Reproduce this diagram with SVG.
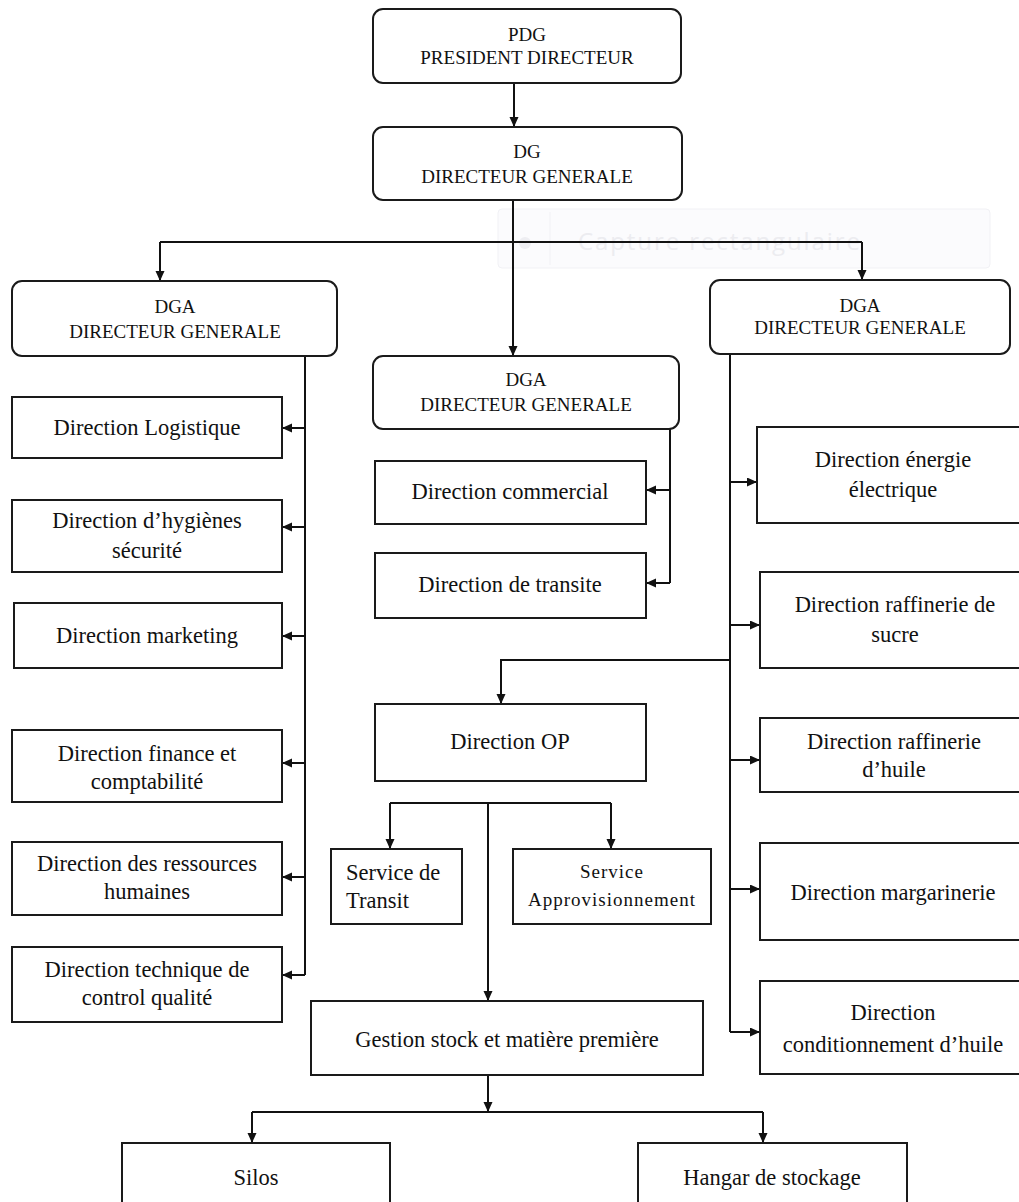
<svg xmlns="http://www.w3.org/2000/svg" width="1019" height="1202" viewBox="0 0 1019 1202">
<style>
.box{fill:#fff;stroke:#1a1a1a;stroke-width:2}
.t{font-family:"Liberation Serif","Times New Roman",serif;font-size:22.5px;fill:#111;text-anchor:middle}
.tl{font-family:"Liberation Serif","Times New Roman",serif;font-size:22.5px;fill:#111;text-anchor:start}
.c{font-family:"Liberation Serif","Times New Roman",serif;font-size:19px;fill:#111;text-anchor:middle}
.s{font-family:"Liberation Serif","Times New Roman",serif;font-size:19px;fill:#111;text-anchor:middle;letter-spacing:1px}
.ln{fill:none;stroke:#111;stroke-width:2}
.ar{fill:none;stroke:#111;stroke-width:2;marker-end:url(#ah)}
</style>
<defs>
<marker id="ah" markerUnits="userSpaceOnUse" markerWidth="10" markerHeight="10" refX="10" refY="4.5" orient="auto">
<path d="M0,0 L10,4.5 L0,9 z" fill="#111"/>
</marker>
</defs>
<rect width="1019" height="1202" fill="#fff"/>
<g id="watermark">
<rect x="498" y="209" width="492" height="59" rx="4" fill="#fbfbfd" stroke="#f1f1f5" stroke-width="1"/>
<circle cx="525" cy="243" r="6" fill="#eeeef2"/>
<line x1="550" y1="212" x2="550" y2="265" stroke="#f1f1f5" stroke-width="1"/>
<text x="578" y="250" font-family="'Open Sans',sans-serif" font-size="24" fill="#ececf0" textLength="282">Capture rectangulaire</text>
</g>
<g id="connectors">
<path class="ar" d="M514 83 V127"/>
<path class="ar" d="M513 200 V356"/>
<path class="ln" d="M160 242 H862"/>
<path class="ar" d="M160 242 V281"/>
<path class="ar" d="M862 242 V280"/>
<path class="ln" d="M305 356 V975"/>
<path class="ar" d="M305 428 H282"/>
<path class="ar" d="M305 527 H282"/>
<path class="ar" d="M305 636 H282"/>
<path class="ar" d="M305 763 H282"/>
<path class="ar" d="M305 877 H282"/>
<path class="ar" d="M305 975 H282"/>
<path class="ln" d="M670 429 V583"/>
<path class="ar" d="M670 490 H646"/>
<path class="ar" d="M670 583 H646"/>
<path class="ln" d="M730 354 V1032"/>
<path class="ar" d="M730 482 H757"/>
<path class="ar" d="M730 625 H760"/>
<path class="ar" d="M730 760 H760"/>
<path class="ar" d="M730 889 H760"/>
<path class="ar" d="M730 1032 H760"/>
<path class="ar" d="M730 660 H501 V704"/>
<path class="ln" d="M390 803 H611"/>
<path class="ar" d="M390 803 V849"/>
<path class="ar" d="M611 803 V849"/>
<path class="ar" d="M488 803 V1001"/>
<path class="ar" d="M488 1075 V1112"/>
<path class="ln" d="M252 1112 H763"/>
<path class="ar" d="M252 1112 V1143"/>
<path class="ar" d="M763 1112 V1143"/>
</g>
<g id="pdg"><rect class="box" x="373" y="9" width="308" height="74" rx="10"/><text class="c" x="527" y="41">PDG</text><text class="c" x="527" y="64">PRESIDENT DIRECTEUR</text></g>
<g id="dg"><rect class="box" x="373" y="127" width="309" height="73" rx="10"/><text class="c" x="527" y="158">DG</text><text class="c" x="527" y="183">DIRECTEUR GENERALE</text></g>
<g id="dga-left"><rect class="box" x="12" y="281" width="325" height="75" rx="10"/><text class="c" x="175" y="313">DGA</text><text class="c" x="175" y="338">DIRECTEUR GENERALE</text></g>
<g id="dga-mid"><rect class="box" x="373" y="356" width="306" height="73" rx="10"/><text class="c" x="526" y="386">DGA</text><text class="c" x="526" y="411">DIRECTEUR GENERALE</text></g>
<g id="dga-right"><rect class="box" x="710" y="280" width="300" height="74" rx="10"/><text class="c" x="860" y="312">DGA</text><text class="c" x="860" y="334">DIRECTEUR GENERALE</text></g>
<g id="logistique"><rect class="box" x="12" y="397" width="270" height="61"/><text class="t" x="147" y="435">Direction Logistique</text></g>
<g id="hygiene"><rect class="box" x="12" y="500" width="270" height="72"/><text class="t" x="147" y="528">Direction d’hygiènes</text><text class="t" x="147" y="558">sécurité</text></g>
<g id="marketing"><rect class="box" x="14" y="603" width="268" height="65"/><text class="t" x="147" y="643">Direction marketing</text></g>
<g id="finance"><rect class="box" x="12" y="730" width="270" height="72"/><text class="t" x="147" y="761">Direction finance et</text><text class="t" x="147" y="789">comptabilité</text></g>
<g id="rh"><rect class="box" x="12" y="842" width="270" height="73"/><text class="t" x="147" y="871">Direction des ressources</text><text class="t" x="147" y="899">humaines</text></g>
<g id="technique"><rect class="box" x="12" y="947" width="270" height="75"/><text class="t" x="147" y="977">Direction technique de</text><text class="t" x="147" y="1005">control qualité</text></g>
<g id="commercial"><rect class="box" x="375" y="461" width="271" height="63"/><text class="t" x="510" y="499">Direction commercial</text></g>
<g id="transite"><rect class="box" x="375" y="553" width="271" height="65"/><text class="t" x="510" y="592">Direction de transite</text></g>
<g id="op"><rect class="box" x="375" y="704" width="271" height="77"/><text class="t" x="510" y="749">Direction OP</text></g>
<g id="svc-transit"><rect class="box" x="331" y="849" width="131" height="75"/><text class="tl" x="346" y="880">Service de</text><text class="tl" x="346" y="908">Transit</text></g>
<g id="svc-appro"><rect class="box" x="513" y="849" width="198" height="75"/><text class="s" x="612" y="878">Service</text><text class="s" x="612" y="906">Approvisionnement</text></g>
<g id="gestion"><rect class="box" x="311" y="1001" width="392" height="74"/><text class="t" x="507" y="1047">Gestion stock et matière première</text></g>
<g id="silos"><rect class="box" x="122" y="1143" width="268" height="70"/><text class="t" x="256" y="1185">Silos</text></g>
<g id="hangar"><rect class="box" x="638" y="1143" width="269" height="70"/><text class="t" x="772" y="1185">Hangar de stockage</text></g>
<g id="energie"><rect class="box" x="757" y="427" width="270" height="96"/><text class="t" x="893" y="467">Direction énergie</text><text class="t" x="893" y="497">électrique</text></g>
<g id="sucre"><rect class="box" x="760" y="572" width="267" height="96"/><text class="t" x="895" y="612">Direction raffinerie de</text><text class="t" x="895" y="642">sucre</text></g>
<g id="huile"><rect class="box" x="760" y="718" width="267" height="74"/><text class="t" x="894" y="749">Direction raffinerie</text><text class="t" x="894" y="777">d’huile</text></g>
<g id="margarinerie"><rect class="box" x="760" y="843" width="267" height="97"/><text class="t" x="893" y="900">Direction margarinerie</text></g>
<g id="conditionnement"><rect class="box" x="760" y="981" width="267" height="93"/><text class="t" x="893" y="1020">Direction</text><text class="t" x="893" y="1052">conditionnement d’huile</text></g>
</svg>
